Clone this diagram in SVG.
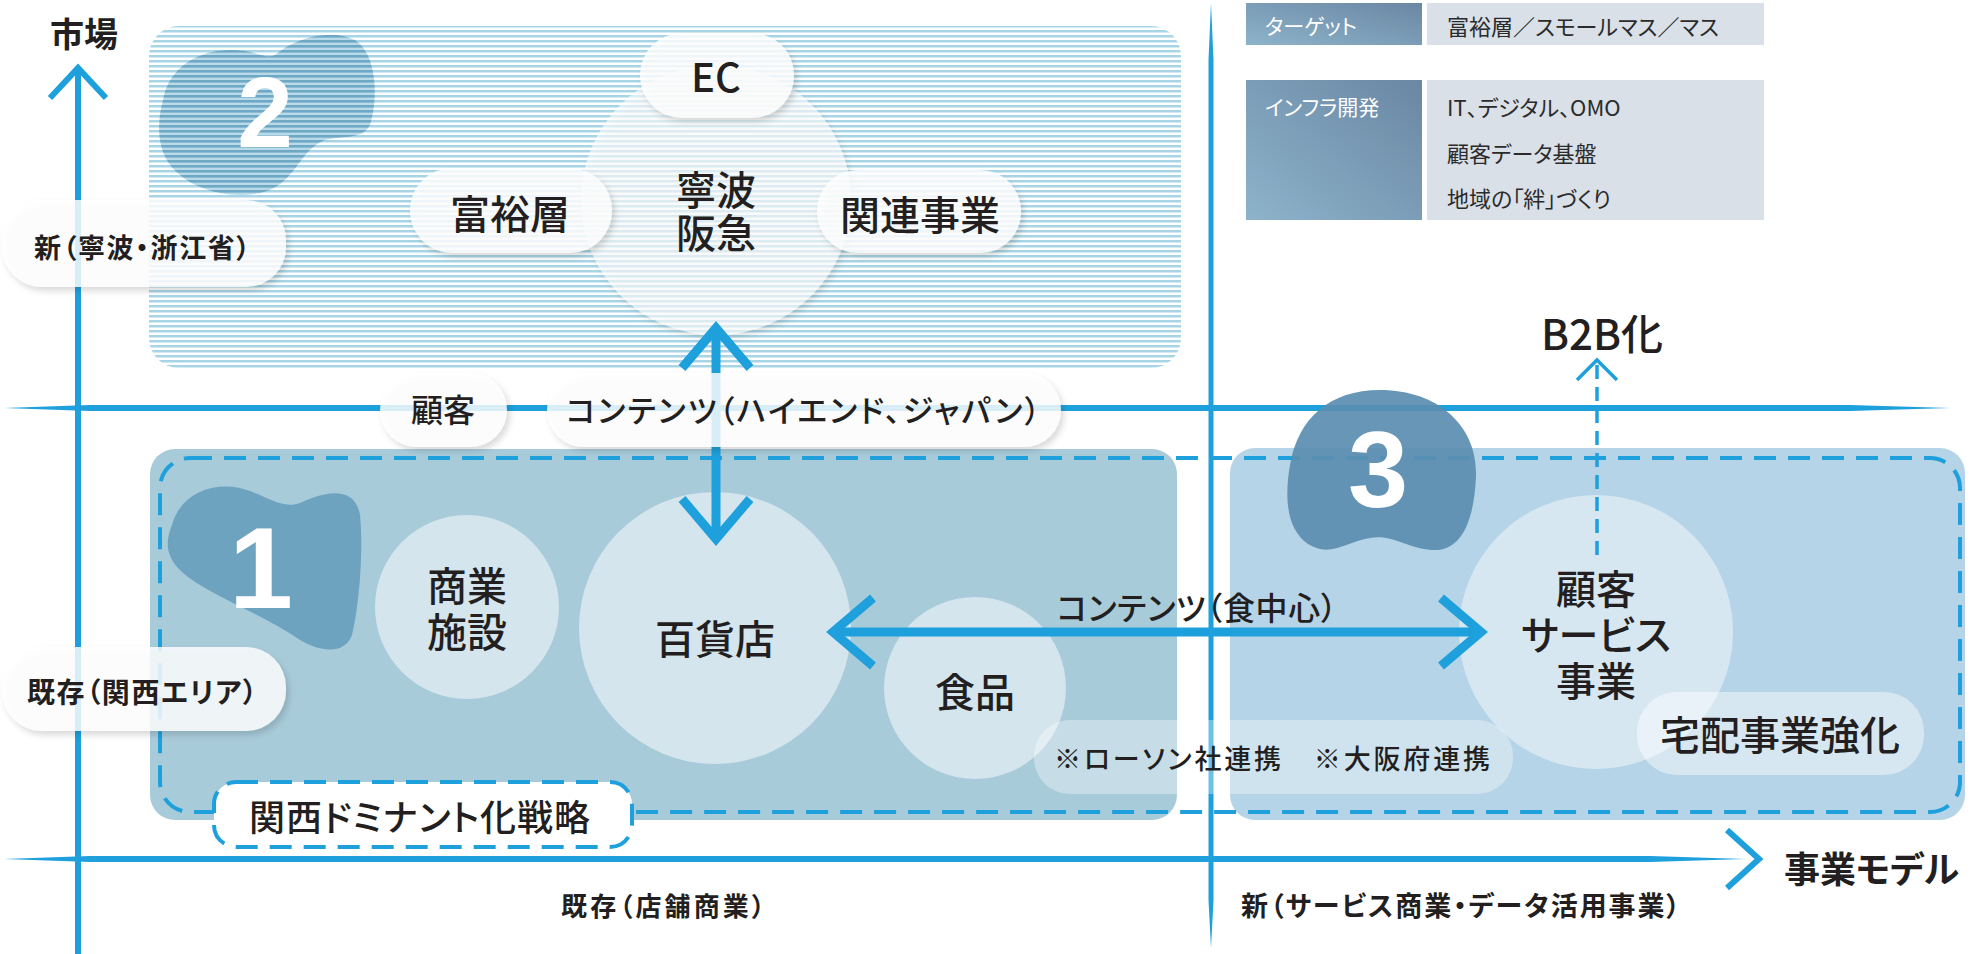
<svg xmlns="http://www.w3.org/2000/svg" width="1983" height="954" viewBox="0 0 1983 954">
<style>
text{font-family:"Noto Sans CJK JP","Noto Sans",sans-serif;fill:#231f20;font-feature-settings:"palt" 1;dominant-baseline:central}
.c{text-anchor:middle}
.lbl{font-size:40px;font-weight:500}
.ax{font-weight:700}
.num{font-family:"Liberation Sans",Arial,sans-serif;font-weight:700;fill:#ffffff;text-anchor:middle}
.pill{fill:#ffffff;fill-opacity:0.82;filter:url(#sh)}
.blue{fill:#1ea0dc}
.axl{fill:none;stroke:#1ea0dc;stroke-width:6}
.arr{fill:none;stroke:#1ea0dc;stroke-width:9}
.dash{fill:none;stroke:#1ea0dc;stroke-width:4;stroke-dasharray:22 12}
.tw{fill:#ffffff;font-size:21px}
.tv{font-size:22px;fill:#2b2b2b}
.c1{fill:#ffffff;fill-opacity:0.5}
</style>
<defs>
<pattern id="hatch" width="10" height="5" patternUnits="userSpaceOnUse"><rect width="10" height="5" fill="#ffffff"/><rect width="10" height="2.5" fill="#a8d5e6"/></pattern>
<pattern id="hatch2" width="10" height="5" patternUnits="userSpaceOnUse"><rect width="10" height="5" fill="#b9dbe9"/><rect width="10" height="2.6" fill="#6ea8c5"/></pattern>
<linearGradient id="lg" x1="0" y1="1" x2="1" y2="0"><stop offset="0" stop-color="#8db3cb"/><stop offset="1" stop-color="#6a87a3"/></linearGradient>
<filter id="sh" x="-20%" y="-20%" width="140%" height="150%"><feDropShadow dx="3" dy="4" stdDeviation="3" flood-color="#000000" flood-opacity="0.18"/></filter>
<marker id="chev" viewBox="-50 -40 62 80" markerWidth="62" markerHeight="80" refX="0" refY="0" orient="auto-start-reverse" markerUnits="userSpaceOnUse" overflow="visible"><path d="M -40,-34 L 0,0 L -40,34" fill="none" stroke="#1ea0dc" stroke-width="9"/></marker>
<marker id="chevB" viewBox="-25 -25 30 50" markerWidth="30" markerHeight="50" refX="0" refY="0" orient="auto" markerUnits="userSpaceOnUse" overflow="visible"><path d="M -20,-20 L 0,0 L -20,20" fill="none" stroke="#1ea0dc" stroke-width="3.5"/></marker>
</defs>
<rect width="1983" height="954" fill="#ffffff"/>

<g id="quadrant2">
<rect x="149" y="26" width="1032" height="342" rx="30" fill="url(#hatch)"/>
<path d="M 163,100 C 170,60 212,44 250,52 C 262,55 268,58 275,55 C 295,38 330,28 355,40 C 378,55 378,100 370,125 C 362,140 345,135 325,140 C 300,150 297,178 270,190 C 238,202 188,192 168,162 C 156,143 158,118 163,100 Z" fill="url(#hatch2)"/>
<text class="num" x="265" y="112" font-size="100">2</text>
</g>

<g id="node-ningbo">
<circle cx="716" cy="200" r="135" fill="#ffffff" fill-opacity="0.6" filter="url(#sh)"/>
<text class="c lbl" font-size="39"><tspan x="716" y="188">寧波</tspan><tspan x="716" y="231">阪急</tspan></text>
</g>
<g id="node-ec">
<rect class="pill" x="640" y="33" width="154" height="85" rx="42"/>
<text class="c lbl" x="716" y="75">EC</text>
</g>
<g id="node-fuyuso">
<rect class="pill" x="410" y="168" width="202" height="85" rx="42"/>
<text class="c lbl" x="510" y="212">富裕層</text>
</g>
<g id="node-kanren">
<rect class="pill" x="817" y="170" width="204" height="83" rx="41"/>
<text class="c lbl" x="920" y="213">関連事業</text>
</g>

<g id="legend">
<rect x="1246" y="3" width="176" height="42" fill="url(#lg)"/>
<rect x="1427" y="3" width="337" height="42" fill="#d9e0e8"/>
<text class="tw" x="1265" y="25">ターゲット</text>
<text class="tv" x="1447" y="25">富裕層／スモールマス／マス</text>
<rect x="1246" y="80" width="176" height="140" fill="url(#lg)"/>
<rect x="1427" y="80" width="337" height="140" fill="#d9e0e8"/>
<text class="tw" x="1265" y="106">インフラ開発</text>
<text class="tv"><tspan x="1447" y="106">IT、デジタル、OMO</tspan><tspan x="1447" y="152">顧客データ基盤</tspan><tspan x="1447" y="197">地域の「絆」づくり</tspan></text>
</g>

<g id="region1">
<rect x="150" y="449" width="1027" height="371" rx="25" fill="#a8cbda"/>
</g>
<g id="region3">
<rect x="1230" y="448" width="735" height="372" rx="25" fill="#b6d4e7"/>
</g>

<g id="axes">
<path class="blue" d="M 4,408 L 90,405 L 1850,405 L 1950,408 L 1850,411 L 90,411 Z"/>
<path class="blue" d="M 4,859 L 90,856 L 1650,856 L 1745,859 L 1650,862 L 90,862 Z"/>
<path class="blue" d="M 1211,3 L 1208.5,60 L 1208.5,900 L 1211,948 L 1213.5,900 L 1213.5,60 Z"/>
<line class="axl" x1="78" y1="954" x2="78" y2="70"/>
<path class="axl" d="M 50,98 L 78,68 L 106,98"/>
<path class="axl" d="M 1727,830 L 1759,859 L 1727,888"/>
<text class="ax" x="84" y="32" font-size="34" text-anchor="middle">市場</text>
<text class="ax" x="1784" y="867" font-size="36" textLength="175">事業モデル</text>
<text class="ax" x="561" y="904" font-size="26" textLength="204">既存（店舗商業）</text>
<text class="ax" x="1241" y="904" font-size="27" textLength="439">新（サービス商業・データ活用事業）</text>
</g>

<g id="strategy-outline">
<rect class="dash" x="160" y="458" width="1800" height="354" rx="30"/>
</g>

<g id="badge1">
<path d="M 172,525 C 180,495 210,482 240,488 C 265,494 280,510 300,503 C 325,491 355,485 360,515 C 364,555 358,612 352,635 C 345,655 320,652 300,640 C 260,612 200,592 178,568 C 165,553 166,540 172,525 Z" fill="#6ea3c0"/>
<text class="num" x="261" y="568" font-size="115">1</text>
</g>
<g id="badge3">
<path d="M 1380,390 C 1440,390 1478,428 1476,476 C 1474,524 1460,552 1432,550 C 1406,548 1392,534 1370,538 C 1345,542 1330,558 1308,544 C 1285,528 1285,494 1290,465 C 1298,418 1330,390 1380,390 Z" fill="#5b8db0" fill-opacity="0.92"/>
<text class="num" x="1378" y="469" font-size="108">3</text>
</g>

<g id="node-shogyo">
<circle class="c1" cx="467" cy="607" r="92"/>
<text class="c lbl"><tspan x="467" y="584">商業</tspan><tspan x="467" y="630">施設</tspan></text>
</g>
<g id="node-hyakkaten">
<circle class="c1" cx="715" cy="628" r="136"/>
<text class="c lbl" x="715" y="637">百貨店</text>
</g>
<g id="node-shokuhin">
<circle class="c1" cx="975" cy="688" r="91"/>
<text class="c lbl" x="975" y="690">食品</text>
</g>
<g id="node-kokyaku-service">
<circle cx="1596" cy="632" r="137" fill="#ffffff" fill-opacity="0.45"/>
<text class="c lbl"><tspan x="1596" y="587">顧客</tspan><tspan x="1596" y="633">サービス</tspan><tspan x="1596" y="679">事業</tspan></text>
</g>
<g id="node-renkei">
<rect x="1034" y="720" width="479" height="74" rx="36" fill="#ffffff" fill-opacity="0.35"/>
<text x="1054" y="757" font-size="27" font-weight="500" textLength="436">※ローソン社連携　※大阪府連携</text>
</g>
<g id="node-takuhai">
<rect x="1637" y="692" width="287" height="83" rx="40" fill="#ffffff" fill-opacity="0.45"/>
<text class="c lbl" x="1780" y="733">宅配事業強化</text>
</g>

<g id="connectors">
<line class="arr" x1="716" y1="328" x2="716" y2="539" marker-start="url(#chev)" marker-end="url(#chev)"/>
<line class="arr" x1="833" y1="632" x2="1481" y2="632" marker-start="url(#chev)" marker-end="url(#chev)"/>
<line x1="1597" y1="555" x2="1597" y2="360" stroke="#1ea0dc" stroke-width="3.5" stroke-dasharray="14 8" marker-end="url(#chevB)"/>
<text x="1057" y="606" font-size="32" font-weight="500" textLength="280">コンテンツ（食中心）</text>
</g>

<g id="node-b2b">
<text class="c" x="1602" y="331" font-size="42" font-weight="500">B2B化</text>
</g>

<g id="node-kokyaku">
<rect class="pill" x="380" y="373" width="127" height="74" rx="37"/>
<text class="c" x="443" y="408" font-size="32" font-weight="500">顧客</text>
</g>
<g id="node-contents-high">
<rect class="pill" x="547" y="373" width="514" height="74" rx="37"/>
<text x="566" y="408" font-size="31" font-weight="500" textLength="474">コンテンツ（ハイエンド、ジャパン）</text>
</g>
<g id="label-new-market">
<rect class="pill" x="2" y="200" width="284" height="87" rx="40"/>
<text class="ax" x="34" y="246" font-size="27" textLength="216">新（寧波・浙江省）</text>
</g>
<g id="label-existing-market">
<rect class="pill" x="2" y="647" width="284" height="84" rx="40" fill-opacity="0.65"/>
<text class="ax" x="27" y="691" font-size="28" textLength="230">既存（関西エリア）</text>
</g>
<g id="node-kansai">
<rect x="214" y="782" width="418" height="65" rx="22" fill="#ffffff"/>
<rect class="dash" x="214" y="782" width="418" height="65" rx="22"/>
<text x="249" y="815" font-size="36" font-weight="500" textLength="341">関西ドミナント化戦略</text>
</g>
</svg>
